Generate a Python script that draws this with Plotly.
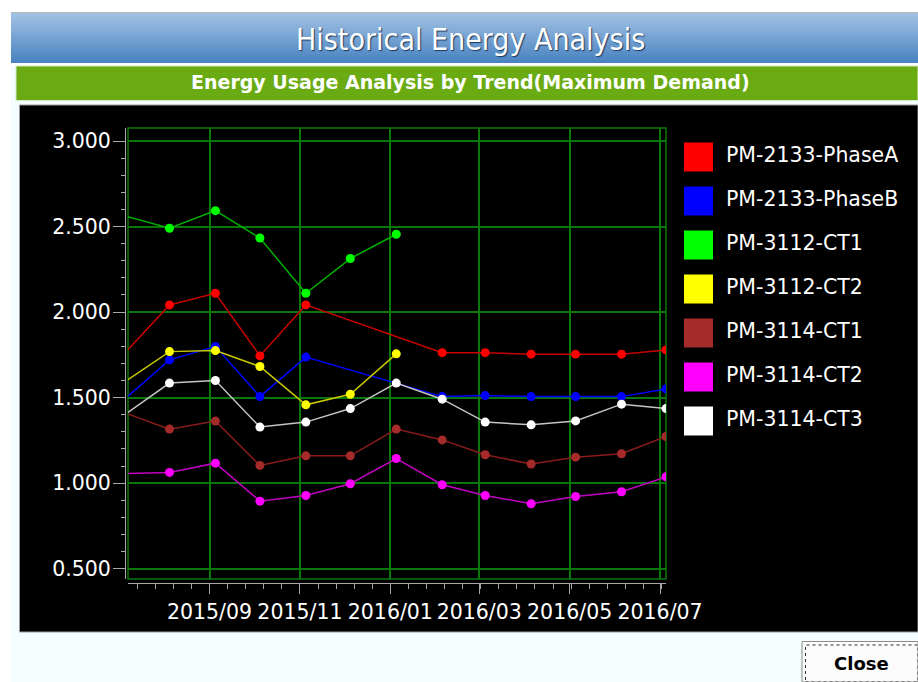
import plotly.graph_objects as go

W, H = 918, 682

# Monthly maximum-demand readings (kW), one value per month
months = ["2015-07-05", "2015-08-05", "2015-09-05", "2015-10-05", "2015-11-05",
          "2015-12-05", "2016-01-05", "2016-02-05", "2016-03-05", "2016-04-05",
          "2016-05-05", "2016-06-05", "2016-07-05"]

pm2133_phase_a = [1.753, 2.042, 2.110, 1.744, 2.042, None, None,
                  1.763, 1.763, 1.754, 1.754, 1.754, 1.779]
pm2133_phase_b = [1.485, 1.721, 1.799, 1.506, 1.737, None, None,
                  1.506, 1.512, 1.506, 1.506, 1.506, 1.551]
pm3112_ct1 = [2.565, 2.490, 2.593, 2.433, 2.110, 2.313, 2.455,
              None, None, None, None, None, None]
pm3112_ct2 = [1.588, 1.769, 1.775, 1.682, 1.458, 1.520, 1.756,
              None, None, None, None, None, None]
pm3114_ct1 = [1.414, 1.316, 1.363, 1.104, 1.160, 1.160, 1.316,
              1.253, 1.166, 1.112, 1.152, 1.172, 1.273]
pm3114_ct2 = [1.056, 1.063, 1.117, 0.895, 0.928, 0.997, 1.144,
              0.991, 0.928, 0.880, 0.922, 0.950, 1.037]
pm3114_ct3 = [1.396, 1.585, 1.600, 1.328, 1.357, 1.436, 1.585,
              1.491, 1.357, 1.341, 1.364, 1.462, 1.436]

series_names = ["PM-2133-PhaseA", "PM-2133-PhaseB", "PM-3112-CT1", "PM-3112-CT2",
                "PM-3114-CT1", "PM-3114-CT2", "PM-3114-CT3"]
series_values = [pm2133_phase_a, pm2133_phase_b, pm3112_ct1, pm3112_ct2,
                 pm3114_ct1, pm3114_ct2, pm3114_ct3]
marker_colors = ["#ff0000", "#0000ff", "#00ff00", "#ffff00", "#a52a2a", "#ff00ff", "#ffffff"]
line_colors = ["#c80000", "#0000ff", "#00b000", "#c8c800", "#8a1c1c", "#c000c0", "#c4c4c4"]

title_text = "Historical Energy Analysis"
subtitle_text = "Energy Usage Analysis by Trend(Maximum Demand)"


def px(x):
    return min(max(x / W, 0.0), 1.0)


def py(y):
    return min(max(1 - y / H, 0.0), 1.0)


# plot area in pixels
PL, PR, PT, PB = 128, 666, 128, 579
GRID = "#0a780a"
AXIS = "#a8a8a8"
TICKFONT = dict(family="DejaVu Sans", size=20.5, color="white")

fig = go.Figure()

for name, vals, mc, lc in zip(series_names, series_values, marker_colors, line_colors):
    fig.add_trace(go.Scatter(
        x=months, y=vals, name=name, mode="lines+markers",
        connectgaps=True,
        line=dict(color=lc, width=1.5),
        marker=dict(color=mc, size=9, line=dict(width=0)),
        showlegend=False, xaxis="x", yaxis="y",
    ))

# legend: colour swatches and names on a small pixel-scaled axis
LX0, LX1, LY0, LY1 = 676, 912, 130, 450
LEG_X, LEG_TXT_X, LEG_Y0, LEG_DY = 698.5, 726, 157, 44
leg_y = [LEG_Y0 + LEG_DY * i for i in range(len(series_names))]
fig.add_trace(go.Scatter(
    x=[LEG_X] * len(series_names), y=leg_y, mode="markers",
    marker=dict(symbol="square", size=29, color=marker_colors, line=dict(width=0)),
    showlegend=False, hoverinfo="skip", xaxis="x3", yaxis="y3",
))
fig.add_trace(go.Scatter(
    x=[LEG_TXT_X] * len(series_names), y=leg_y, mode="text",
    text=series_names, textposition="middle right",
    textfont=dict(family="DejaVu Sans", size=20.5, color="white"),
    showlegend=False, hoverinfo="skip", xaxis="x3", yaxis="y3",
))

shapes = []
# page background
shapes.append(dict(type="rect", xref="paper", yref="paper", x0=px(11), x1=px(W),
                   y0=py(H), y1=py(12), fillcolor="#f4fdff", line=dict(width=0),
                   layer="below"))
# title bar gradient
top = (164, 195, 228)
bot = (72, 130, 192)
n = 51
for i in range(n):
    t = i / (n - 1)
    c = tuple(round(a + (b - a) * t) for a, b in zip(top, bot))
    shapes.append(dict(type="rect", xref="paper", yref="paper", x0=px(11), x1=px(W),
                       y0=py(12 + i + 1.05), y1=py(12 + i),
                       fillcolor="rgb(%d,%d,%d)" % c, line=dict(width=0), layer="below"))
shapes.append(dict(type="line", xref="paper", yref="paper", x0=px(11), x1=px(W),
                   y0=py(12.5), y1=py(12.5), line=dict(color="#b8b8b8", width=1), layer="below"))
shapes.append(dict(type="rect", xref="paper", yref="paper", x0=px(11), x1=px(W),
                   y0=py(66), y1=py(63), fillcolor="#ffffff", line=dict(width=0), layer="below"))
# green sub-title bar
shapes.append(dict(type="rect", xref="paper", yref="paper", x0=px(16), x1=px(W),
                   y0=py(100.5), y1=py(66), fillcolor="#6aaa12",
                   line=dict(color="#d4e8c4", width=1), layer="below"))
# black chart panel
shapes.append(dict(type="rect", xref="paper", yref="paper", x0=px(19.5), x1=px(W),
                   y0=py(632), y1=py(105), fillcolor="#000000",
                   line=dict(color="#9a9a9a", width=1), layer="below"))
# plot frame
shapes.append(dict(type="rect", xref="x domain", yref="y domain", x0=0, x1=1, y0=0, y1=1,
                   line=dict(color=GRID, width=1.5), layer="below"))
# close button
shapes.append(dict(type="rect", xref="paper", yref="paper", x0=px(802), x1=px(W),
                   y0=py(H), y1=py(641.5), fillcolor="#fbfbfb",
                   line=dict(color="#8c8c8c", width=1), layer="below"))
shapes.append(dict(type="rect", xref="paper", yref="paper", x0=px(805.5), x1=px(W),
                   y0=py(H), y1=py(645), fillcolor="rgba(0,0,0,0)",
                   line=dict(color="#303030", width=1, dash="dot"), layer="below"))

annotations = [
    dict(text=title_text, x=px(471), y=py(40), xref="paper", yref="paper",
         xanchor="center", yanchor="middle", showarrow=False,
         font=dict(family="Liberation Sans Narrow, DejaVu Sans Condensed, sans-serif",
                   size=30, color="white", shadow="1px 1px 1px #1b3a60")),
    dict(text=subtitle_text, x=px(471), y=py(82), xref="paper", yref="paper",
         xanchor="center", yanchor="middle", showarrow=False,
         font=dict(family="DejaVu Sans", size=19, color="white", weight="bold")),
    dict(text="Close", x=px(861), y=py(663), xref="paper", yref="paper",
         xanchor="center", yanchor="middle", showarrow=False,
         font=dict(family="DejaVu Sans", size=18, color="black", weight="bold")),
]

fig.update_layout(
    width=W, height=H, autosize=False,
    margin=dict(l=0, r=0, t=0, b=0, pad=0),
    paper_bgcolor="#ffffff", plot_bgcolor="rgba(0,0,0,0)",
    showlegend=False,
    shapes=shapes, annotations=annotations,
    xaxis=dict(
        type="date", domain=[px(PL), px(PR)], anchor="free", position=py(583),
        range=["2015-07-08", "2016-07-05"], automargin=False,
        tick0="2015-09-01", dtick="M2", tickformat="%Y/%m",
        ticks="outside", ticklen=10, tickwidth=1, tickcolor=AXIS,
        showline=True, linecolor=AXIS, linewidth=1,
        showgrid=True, gridcolor=GRID, gridwidth=1.5,
        zeroline=False, tickfont=TICKFONT,
        minor=dict(ticks="outside", ticklen=5, tickwidth=1, tickcolor=AXIS,
                   tick0="2015-09-01", dtick=61 * 86400000 / 5, showgrid=False),
        fixedrange=True,
    ),
    yaxis=dict(
        domain=[py(PB), py(PT)], anchor="free", position=px(125), automargin=False,
        range=[0.44, 3.076], tick0=0.5, dtick=0.5, tickformat=".3f",
        ticks="outside", ticklen=12, tickwidth=1, tickcolor=AXIS,
        ticklabelstandoff=-2,
        showline=True, linecolor=AXIS, linewidth=1,
        showgrid=True, gridcolor=GRID, gridwidth=1.5,
        zeroline=False, tickfont=TICKFONT,
        minor=dict(ticks="outside", ticklen=4, tickwidth=1, tickcolor=AXIS,
                   dtick=0.1, showgrid=False),
        fixedrange=True,
    ),
    xaxis3=dict(domain=[px(LX0), px(LX1)], range=[LX0, LX1], visible=False,
                anchor="y3", fixedrange=True, automargin=False),
    yaxis3=dict(domain=[py(LY1), py(LY0)], range=[LY1, LY0], visible=False,
                anchor="x3", fixedrange=True, automargin=False),
)

fig.write_html("out.html")
